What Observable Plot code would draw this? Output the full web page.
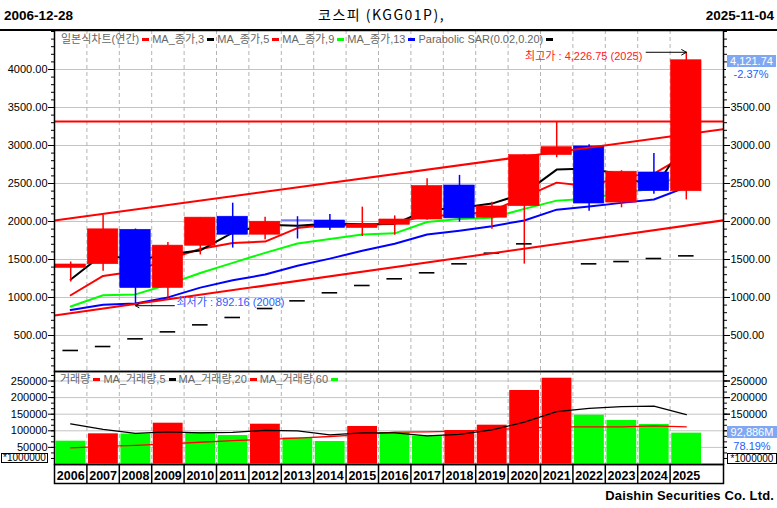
<!DOCTYPE html>
<html>
<head>
<meta charset="utf-8">
<script src="https://cdn.jsdelivr.net/npm/d3@7"></script>
<script src="https://cdn.jsdelivr.net/npm/@observablehq/plot@0.6"></script>
<style>
  body { margin: 0; background: #fff; }
  #chart { position: relative; width: 777px; height: 508px; overflow: hidden; font-family: "Liberation Sans", Arial, "Noto Sans CJK KR", sans-serif; }
  .abs { position: absolute; white-space: nowrap; }
  #main, #vol, #yrs { position: absolute; left: 0; }
  #main { top: 30px; }
  #vol { top: 371px; }
  #yrs { top: 464px; }
  .legend { position: absolute; display: flex; align-items: center; font-size: 11px; line-height: 12px; color: #666; white-space: nowrap; }
  .legend .sw { display: inline-block; width: 7px; height: 3px; margin: 0 3px; }
  .valbox { position: absolute; background: #80a8f2; color: #fff; font-size: 11px; line-height: 12px; text-align: center; }
  .pct { position: absolute; background: #fff; color: #2060ff; font-size: 11px; line-height: 12px; text-align: center; }
  .unit { position: absolute; background: #fff; border: 1px solid #000; font-size: 10px; line-height: 9px; text-align: center; box-sizing: border-box; }
</style>
</head>
<body>
<div id="chart">
  <div id="main"></div>
  <div id="vol"></div>
  <div id="yrs"></div>

  <div class="abs" style="left:4px;top:8px;font:bold 13.5px/16px 'Liberation Sans';">2006-12-28</div>
  <div class="abs" style="left:318px;top:6px;font:14px/17px 'Noto Sans CJK KR';letter-spacing:1.5px;">코스피 (KGG01P),</div>
  <div class="abs" style="right:3px;top:8px;font:bold 13.5px/16px 'Liberation Sans';">2025-11-04</div>
  <div class="abs" style="left:0;top:29px;width:777px;height:1.5px;background:#000;"></div>

  <div class="legend" style="left:61px;top:33px;">
    <span>일본식차트(연간)</span><span class="sw" style="background:#ff0000"></span>
    <span>MA_종가,3</span><span class="sw" style="background:#000"></span>
    <span>MA_종가,5</span><span class="sw" style="background:#ff0000"></span>
    <span>MA_종가,9</span><span class="sw" style="background:#00ff00"></span>
    <span>MA_종가,13</span><span class="sw" style="background:#0000ff"></span>
    <span>Parabolic SAR(0.02,0.20)</span><span class="sw" style="background:#000"></span>
  </div>
  <div class="legend" style="left:60px;top:373px;">
    <span>거래량</span><span class="sw" style="background:#ff0000"></span>
    <span>MA_거래량,5</span><span class="sw" style="background:#000"></span>
    <span>MA_거래량,20</span><span class="sw" style="background:#ff0000"></span>
    <span>MA_거래량,60</span><span class="sw" style="background:#00ff00"></span>
  </div>

  <div class="valbox" style="left:727px;top:55px;width:49px;height:12px;">4,121.74</div>
  <div class="pct" style="left:726px;top:68px;width:50px;height:12px;">-2.37%</div>
  <div class="unit" style="left:1px;top:453px;width:47px;height:10px;line-height:8px;">*1000000</div>
  <div class="unit" style="left:727px;top:453px;width:50px;height:11px;">*1000000</div>
  <div class="valbox" style="left:727px;top:426px;width:50px;height:12px;">92,886M</div>
  <div class="pct" style="left:727px;top:440px;width:50px;height:12px;">78.19%</div>

  <div class="abs" style="right:3px;top:488px;font:bold 13px/15px 'Liberation Sans';letter-spacing:0.15px;">Daishin Securities Co. Ltd.</div>
</div>

<script>
// yearly KOSPI candles
const years = [2006, 2007, 2008, 2009, 2010, 2011, 2012, 2013, 2014, 2015,
               2016, 2017, 2018, 2019, 2020, 2021, 2022, 2023, 2024, 2025];
const openPrices  = [1389, 1438, 1891, 1125, 1681, 2063, 1826, 2013.7, 2013, 1914,
                     1957, 2026, 2474, 2050, 2201, 2874, 2988, 2249, 2645, 2398];
const highPrices  = [1467, 2085, 1901, 1723, 2053, 2241, 2057, 2063, 2093, 2189,
                     2074, 2561, 2607, 2252, 2878, 3316.08, 3010, 2668, 2896, 4226.75];
const lowPrices   = [1203, 1345, 892.16, 992, 1560, 1650, 1760, 1770, 1882, 1803,
                     1820, 2017, 1991, 1897, 1439, 2839, 2134, 2180, 2360, 2284];
const closePrices = [1434.46, 1897.13, 1124.47, 1682.77, 2051.00, 1825.74, 1997.05, 2011.34, 1915.59, 1961.31,
                     2026.46, 2467.49, 2041.04, 2197.67, 2873.47, 2977.65, 2236.40, 2655.28, 2399.49, 4121.74];

// moving averages of close and parabolic SAR
const ma3  = [1236.6, 1570.3, 1485.4, 1568.1, 1619.4, 1853.2, 1957.9, 1944.7, 1974.7, 1962.7,
              1967.8, 2151.8, 2178.3, 2235.4, 2370.7, 2682.9, 2695.8, 2623.1, 2430.4, 3058.8];
const ma5  = [1029.6, 1283.5, 1346.3, 1503.6, 1638.0, 1716.2, 1736.2, 1913.6, 1960.1, 1942.2,
              1982.4, 2076.4, 2082.4, 2138.8, 2321.2, 2511.5, 2465.2, 2588.1, 2628.5, 2878.1];
const ma9  = [881.9, 1030.2, 1040.9, 1171.8, 1322.6, 1455.7, 1587.5, 1711.5, 1771.1, 1829.6,
              1844.0, 1993.2, 2033.0, 2049.3, 2165.7, 2274.7, 2299.7, 2381.9, 2430.6, 2663.4];
const ma13 = [836.5, 903.4, 922.0, 1001.3, 1130.2, 1227.3, 1301.9, 1417.8, 1511.8, 1614.4,
              1707.9, 1828.8, 1879.7, 1938.4, 2013.5, 2156.0, 2198.6, 2245.1, 2289.2, 2452.7];
const sar  = [303, 355, 456, 548, 640, 737, 855, 956, 1062, 1158,
              1246, 1325, 1443, 1583, 1706, null, 1443, 1473, 1513, 1548];

// trend channel (years at the plot edges) and the 2021 high as resistance
const trendYears = [2005.5, 2026.15];
const upperTrend = [2013, 3214];
const lowerTrend = [763, 2016];
const resistance = 3316.08;

// volume in millions of shares and its moving averages
const volume  = [68700, 90900, 90400, 122900, 94900, 85800, 119900, 78900, 67800, 113000,
                 94900, 83900, 100900, 116900, 221400, 258400, 147000, 131000, 119000, 92886];
const volMa5  = [121000, 104000, 92000, 97000, 94000, 95000, 101500, 100000, 88000, 93500,
                 93500, 85000, 89500, 102500, 126000, 157500, 167500, 173000, 174500, 149000];
const volMa20 = [48800, 53000, 56000, 60500, 65500, 70500, 74000, 77700, 82800, 88500,
                 95800, 97000, 99000, 103000, 108000, 112000, 112000, 112000, 115000, 112000];

// axis ticks (the right side hides labels that sit under the value boxes)
const priceTicks = [500, 1000, 1500, 2000, 2500, 3000, 3500, 4000];
const priceRightLabels = [500, 1000, 1500, 2000, 2500, 3000, 3500];
const priceMinor = d3.range(100, 4600, 100);
const volTicks = [50000, 100000, 150000, 200000, 250000];
const volRightLabels = [150000, 200000, 250000];
const volMinor = d3.range(1, 17).map(k => k * 50000 / 3);

const FONT = "'Liberation Sans', Arial, 'Noto Sans CJK KR', sans-serif";
const xDomain = [2005.5, 2026.148];
const boundaries = years.slice(0, -1).map(y => y + 0.5);
const UP = "#ff0000", DOWN = "#0000ff", GREEN = "#00ff00";

const candles = years.map((year, i) => ({
  year, open: openPrices[i], high: highPrices[i], low: lowPrices[i], close: closePrices[i],
  ma3: ma3[i], ma5: ma5[i], ma9: ma9[i], ma13: ma13[i], sar: sar[i]
}));
const candleColor = d => d.close >= d.open ? UP : DOWN;
const trendUp = trendYears.map((x, i) => ({x, y: upperTrend[i]}));
const trendLow = trendYears.map((x, i) => ({x, y: lowerTrend[i]}));
const highPoint = [candles[candles.length - 1]];
const lowPoint = [candles.reduce((a, b) => (b.low < a.low ? b : a))];
const fmt2 = d => d.toFixed(2);
const noLabel = () => "";
const baseStyle = {background: "transparent", overflow: "visible", fontFamily: FONT, fontSize: "11px", color: "#000"};

const main = Plot.plot({
  width: 777,
  height: 341,
  marginLeft: 54,
  marginRight: 54,
  marginTop: 0,
  marginBottom: 0,
  style: baseStyle,
  x: {domain: xDomain, axis: null},
  y: {domain: [26.3, 4513.2], axis: null},
  marks: [
    Plot.ruleY(priceTicks, {stroke: "#c4c4c4"}),
    Plot.ruleX(boundaries, {stroke: "#b4b4b4", strokeDasharray: "4,3"}),
    Plot.line(candles, {x: "year", y: "ma13", stroke: DOWN, strokeWidth: 2}),
    Plot.line(candles, {x: "year", y: "ma9", stroke: GREEN, strokeWidth: 2}),
    Plot.line(candles, {x: "year", y: "ma5", stroke: UP, strokeWidth: 2}),
    Plot.line(candles, {x: "year", y: "ma3", stroke: "#000", strokeWidth: 2}),
    Plot.ruleX(candles, {x: "year", y1: "low", y2: "high", stroke: candleColor, strokeWidth: 1.5}),
    Plot.rect(candles, {x1: d => d.year - 0.47, x2: d => d.year + 0.47, y1: "open", y2: "close",
                        fill: candleColor, stroke: candleColor, strokeWidth: 0.6}),
    Plot.ruleY(candles, {x1: d => d.year - 0.24, x2: d => d.year + 0.24, y: "sar", stroke: "#000", strokeWidth: 1.6}),
    Plot.line(trendUp, {x: "x", y: "y", stroke: UP, strokeWidth: 2, clip: true}),
    Plot.line(trendLow, {x: "x", y: "y", stroke: UP, strokeWidth: 2, clip: true}),
    Plot.ruleY([resistance], {stroke: UP, strokeWidth: 2}),
    Plot.arrow(highPoint, {x1: d => d.year - 1.24, y1: "high", x2: "year", y2: "high", stroke: "#000", strokeWidth: 1, headLength: 8}),
    Plot.text(highPoint, {x: "year", y: "high", text: d => `최고가 : ${d3.format(",.2f")(d.high)} (${d.year})`,
                          textAnchor: "end", dx: -44, dy: 4, fill: "#ff2020", fontSize: 11}),
    Plot.arrow(lowPoint, {x1: d => d.year + 1.2, y1: "low", x2: "year", y2: "low", stroke: "#000", strokeWidth: 1, headLength: 6}),
    Plot.text(lowPoint, {x: "year", y: "low", text: d => `최저가 : ${d.low.toFixed(2)} (${d.year})`,
                         textAnchor: "start", dx: 41, dy: -3, fill: "#2f5bff", fontSize: 11}),
    Plot.axisY(priceMinor, {anchor: "left", tickSize: 3, tickFormat: noLabel, label: null}),
    Plot.axisY(priceTicks, {anchor: "left", tickSize: 6, tickPadding: 1, tickFormat: fmt2, label: null}),
    Plot.axisY(priceMinor, {anchor: "right", tickSize: 3, tickFormat: noLabel, label: null}),
    Plot.axisY(priceTicks, {anchor: "right", tickSize: 6, tickFormat: noLabel, label: null}),
    Plot.axisY(priceRightLabels, {anchor: "right", tickSize: 6, tickPadding: 1, tickFormat: fmt2, label: null}),
    Plot.frame({stroke: "#000", strokeWidth: 1.5})
  ]
});
document.getElementById("main").appendChild(main);

const volRows = years.map((year, i) => ({
  year, volume: volume[i], ma5: volMa5[i], ma20: volMa20[i],
  up: i > 0 && volume[i] > volume[i - 1]
}));

const vol = Plot.plot({
  width: 777,
  height: 93,
  marginLeft: 54,
  marginRight: 54,
  marginTop: 0,
  marginBottom: 0,
  style: baseStyle,
  x: {domain: xDomain, axis: null},
  y: {domain: [-1500, 278600], axis: null},
  marks: [
    Plot.ruleY(volTicks, {stroke: "#c4c4c4"}),
    Plot.ruleX(boundaries, {stroke: "#b4b4b4", strokeDasharray: "4,3"}),
    Plot.rect(volRows, {x1: d => d.year - 0.45, x2: d => d.year + 0.47, y1: 0, y2: "volume",
                        fill: d => d.up ? UP : GREEN}),
    Plot.line(volRows, {x: "year", y: "ma20", stroke: UP, strokeWidth: 1.3}),
    Plot.line(volRows, {x: "year", y: "ma5", stroke: "#000", strokeWidth: 1.3}),
    Plot.axisY(volMinor, {anchor: "left", tickSize: 3, tickFormat: noLabel, label: null}),
    Plot.axisY(volTicks, {anchor: "left", tickSize: 6, tickPadding: 1, tickFormat: d => String(d), label: null}),
    Plot.axisY(volMinor, {anchor: "right", tickSize: 3, tickFormat: noLabel, label: null}),
    Plot.axisY(volTicks, {anchor: "right", tickSize: 6, tickFormat: noLabel, label: null}),
    Plot.axisY(volRightLabels, {anchor: "right", tickSize: 6, tickPadding: 1, tickFormat: d => String(d), label: null}),
    Plot.frame({stroke: "#000", strokeWidth: 1.5})
  ]
});
document.getElementById("vol").appendChild(vol);

const yrs = Plot.plot({
  width: 777,
  height: 19,
  marginLeft: 54,
  marginRight: 54,
  marginTop: 0,
  marginBottom: 0,
  style: baseStyle,
  x: {domain: xDomain, axis: null},
  marks: [
    Plot.ruleX(boundaries, {stroke: "#000", strokeWidth: 1.5}),
    Plot.text(years, {x: d => d, frameAnchor: "middle", text: d => String(d), dy: 2,
                      fontWeight: "bold", fontSize: 12.5, fill: "#000"}),
    Plot.frame({stroke: "#000", strokeWidth: 1.5})
  ]
});
document.getElementById("yrs").appendChild(yrs);
</script>
</body>
</html>
